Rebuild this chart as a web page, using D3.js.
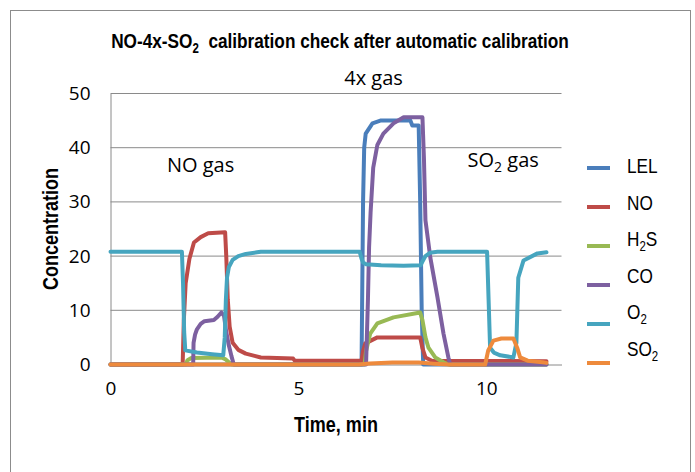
<!DOCTYPE html>
<html><head><meta charset="utf-8">
<script src="https://cdn.jsdelivr.net/npm/d3@7/dist/d3.min.js"></script>
<style>
body{margin:0;background:#fff}
svg{display:block}
text{white-space:pre}
</style>
</head><body>
<svg id="chart" width="695" height="472"></svg>
<script>
// ---- data (time in minutes, concentration) ----
const seriesNames = ["LEL", "NO", "H₂S", "CO", "O₂", "SO₂"];
const seriesColors = ["#4A7EBB", "#BE4B48", "#98B954", "#7D60A0", "#46A5BF", "#EE8A3C"];

const lelData = [[0,0],[6.68,0],[6.72,30],[6.75,40],[6.79,42.6],[6.97,44.5],[7.18,45],[7.98,45],[8.03,44.1],[8.2,44.1],[8.24,30],[8.28,10],[8.32,0],[11.6,0]];
const noData = [[0,0],[1.92,0],[1.95,8],[2.0,15],[2.1,19.5],[2.22,22.5],[2.4,23.5],[2.6,24.2],[3.05,24.4],[3.08,20],[3.12,12],[3.17,7],[3.25,4.0],[3.4,2.7],[3.6,2.0],[4.0,1.3],[4.86,1.1],[4.9,0.7],[6.68,0.7],[6.72,2.5],[6.78,3.9],[7.1,5.0],[8.24,5.0],[8.3,3.0],[8.38,1.3],[8.55,0.7],[11.6,0.6]];
const h2sData = [[0,0],[2.0,0],[2.05,0.8],[2.15,1.2],[2.95,1.3],[3.05,1.0],[3.15,0.4],[3.24,0],[6.76,0],[6.8,2.5],[6.91,5.7],[7.1,7.6],[7.53,8.7],[8.24,9.6],[8.3,8.2],[8.38,5.0],[8.46,3.1],[8.64,1.3],[8.86,0.4],[9.0,0],[11.6,0]];
const coData = [[0,0],[2.2,0],[2.21,4],[2.25,5.5],[2.3,6.5],[2.4,7.5],[2.5,8.0],[2.75,8.2],[2.85,8.8],[2.95,9.6],[3.02,9.0],[3.08,6],[3.15,3.5],[3.22,1.5],[3.28,0],[6.8,0],[6.85,12],[6.88,21.6],[6.92,28],[6.99,36.3],[7.1,40.5],[7.26,42.6],[7.53,44.5],[7.8,45.6],[8.3,45.6],[8.34,38],[8.38,26.6],[8.51,19.7],[8.7,12.4],[8.86,5.7],[8.99,1.3],[9.04,0],[11.6,0]];
const o2Data = [[0,20.8],[1.9,20.8],[1.93,15],[1.96,6],[1.99,2.6],[2.3,2.2],[2.7,1.9],[3.0,1.7],[3.04,5],[3.07,12],[3.1,16],[3.15,18],[3.25,19.3],[3.4,20.0],[3.6,20.4],[3.9,20.7],[4.0,20.8],[6.63,20.8],[6.68,19.5],[6.72,18.8],[6.8,18.5],[7.2,18.3],[7.8,18.2],[8.25,18.3],[8.3,19],[8.38,20],[8.5,20.6],[8.7,20.8],[10.02,20.8],[10.06,12],[10.1,3.1],[10.2,2.2],[10.37,1.7],[10.72,1.3],[10.8,4],[10.85,16],[10.99,19.2],[11.36,20.5],[11.6,20.7]];
const so2Data = [[0,0],[6.6,0],[6.9,0.2],[7.5,0.35],[8.2,0.35],[8.6,0.15],[9.0,0],[9.97,0],[10.05,2.6],[10.19,4.4],[10.4,4.8],[10.72,4.8],[10.82,3.1],[10.9,1.3],[11.1,0.7],[11.5,0.4],[11.6,0.3]];
const allSeries = [lelData, noData, h2sData, coData, o2Data, so2Data];

const yTicks = [0, 10, 20, 30, 40, 50];
const xTicks = [0, 5, 10];
const titleText = "NO-4x-SO₂  calibration check after automatic calibration";
const xTitle = "Time, min";
const yTitle = "Concentration";
const notes = [{t: "4x gas", x: 7.0, y: 51.5, anchor: "middle"}, {t: "NO gas", x: 1.5, y: 35.5, anchor: "start"}, {t: "SO₂ gas", x: 9.5, y: 36.5, anchor: "start"}];

// ---- drawing ----
const svg = d3.select("#chart");
const narrow = "'Liberation Sans',Arial,sans-serif";   // horizontally squeezed to mimic Arial Narrow
const squeeze = 0.82;
const body = "'Open Sans','Liberation Sans',sans-serif";

const x = d3.scaleLinear().domain([0, 12]).range([110.5, 561.5]);
const y = d3.scaleLinear().domain([0, 50]).range([364.5, 93.5]);

// subscript helper: turns "₂" into a lowered small 2
function richText(sel, str, subSize, shift) {
  const parts = str.split(/(₂)/);
  let down = false;
  parts.forEach(p => {
    if (p === "") return;
    if (p === "₂") {
      sel.append("tspan").attr("font-size", subSize).attr("dy", shift).text("2");
      down = true;
    } else {
      const ts = sel.append("tspan").text(p);
      if (down) { ts.attr("dy", -shift); down = false; }
    }
  });
}
function narrowText(px, py, rot, anchor, size, weight, str) {
  const t = svg.append("text")
    .attr("transform", `translate(${px},${py}) rotate(${rot}) scale(${squeeze},1)`)
    .attr("text-anchor", anchor).attr("font-family", narrow)
    .attr("font-weight", weight).attr("font-size", size);
  richText(t, str, Math.round(size * 0.65), 5);
  return t;
}

// chart border
svg.append("rect").attr("x", 10.5).attr("y", 10.5).attr("width", 680).attr("height", 470)
  .attr("fill", "#fff").attr("stroke", "#8c8c8c").attr("stroke-width", 1);

// gridlines
svg.append("g").selectAll("line").data(yTicks.filter(d => d > 0)).join("line")
  .attr("x1", x(0)).attr("x2", x(12)).attr("y1", d => y(d)).attr("y2", d => y(d))
  .attr("stroke", "#8a8a8a").attr("stroke-width", 1);

// axes
const yAxis = d3.axisLeft(y).tickValues(yTicks).tickSize(0).tickPadding(20);
const gy = svg.append("g").attr("transform", `translate(${x(0)},0)`).call(yAxis);
gy.select(".domain").attr("stroke", "#8a8a8a");
gy.selectAll("text").attr("font-family", body).attr("font-size", 19).attr("fill", "#000");

const xAxis = d3.axisBottom(x).tickValues(xTicks).tickSize(0).tickPadding(17);
const gx = svg.append("g").attr("transform", `translate(0,${y(0)})`).call(xAxis);
gx.select(".domain").attr("stroke", "#8a8a8a");
gx.selectAll("text").attr("font-family", body).attr("font-size", 19).attr("fill", "#000");

// series
const line = d3.line().x(d => x(d[0])).y(d => y(d[1]));
svg.append("g").selectAll("path").data(allSeries).join("path")
  .attr("d", line).attr("fill", "none")
  .attr("stroke", (d, i) => seriesColors[i]).attr("stroke-width", 4)
  .attr("stroke-linejoin", "round").attr("stroke-linecap", "round");

// title
narrowText(340, 48, 0, "middle", 21, "bold", titleText);

// axis titles
narrowText(x(6), 432, 0, "middle", 22, "bold", xTitle);
narrowText(58, y(25), -90, "middle", 22, "bold", yTitle);

// annotations
notes.forEach(n => {
  const t = svg.append("text").attr("x", x(n.x)).attr("y", y(n.y)).attr("text-anchor", n.anchor)
    .attr("font-family", body).attr("font-size", 20);
  richText(t, n.t, 14, 5);
});

// legend
seriesNames.forEach((name, i) => {
  const ly = 168 + i * 39;
  svg.append("line").attr("x1", 587).attr("x2", 610).attr("y1", ly).attr("y2", ly)
    .attr("stroke", seriesColors[i]).attr("stroke-width", 4);
  narrowText(627, 173 + i * 36.6, 0, "start", 21, "normal", name);
});
</script>
</body></html>
